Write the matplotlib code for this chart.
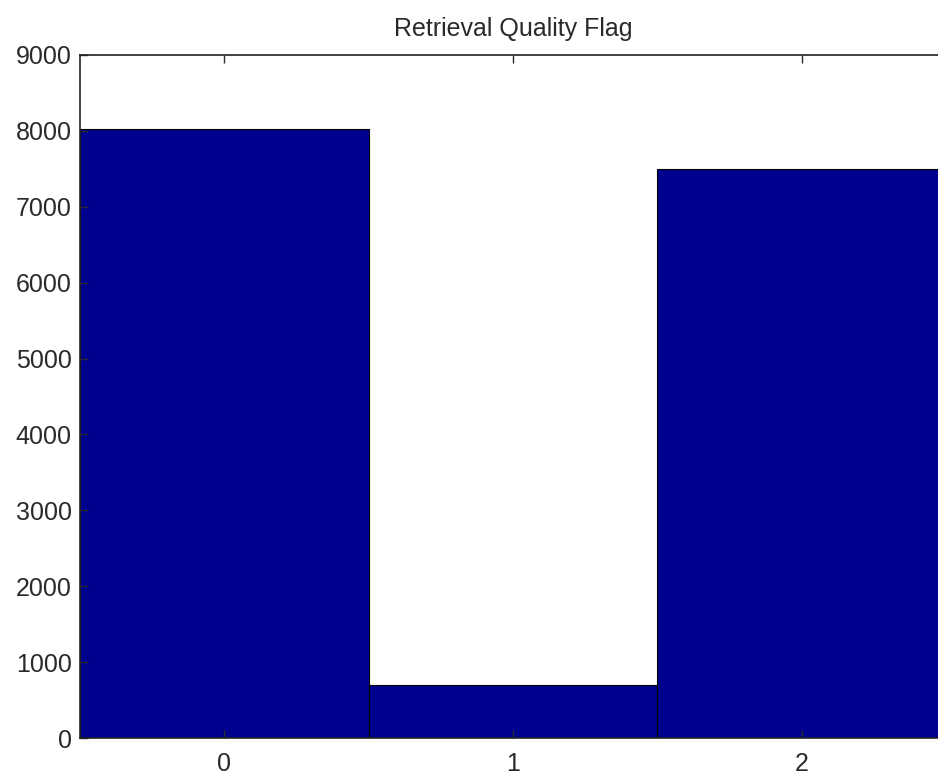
import matplotlib
matplotlib.use("Agg")
import matplotlib.pyplot as plt

categories = [0, 1, 2]
counts = [8030, 700, 7500]
yticks = [0, 1000, 2000, 3000, 4000, 5000, 6000, 7000, 8000, 9000]
title = "Retrieval Quality Flag"

plt.rcParams['font.family'] = ['Liberation Sans', 'DejaVu Sans']
fig = plt.figure(figsize=(9.38, 7.76), dpi=100)
ax = fig.add_axes([80/938, 38/776, 866/938, 683/776])
ax.bar(categories, counts, width=1.0, color='#00008F', edgecolor='black', linewidth=0.8)
ax.set_xlim(-0.5, 2.5)
ax.set_ylim(0, 9000)
ax.set_xticks(categories)
ax.set_yticks(yticks)
ax.tick_params(direction='in', length=6, width=1, top=True, right=True,
               labelsize=18, colors='#2a2a2a')
ax.tick_params(axis='y', pad=6)
ax.tick_params(axis='x', pad=10)
for s in ax.spines.values():
    s.set_linewidth(1.2)
    s.set_color('#222222')
ax.set_title(title, fontsize=18, pad=14, color='#2a2a2a')
fig.savefig('out.png', dpi=100)
